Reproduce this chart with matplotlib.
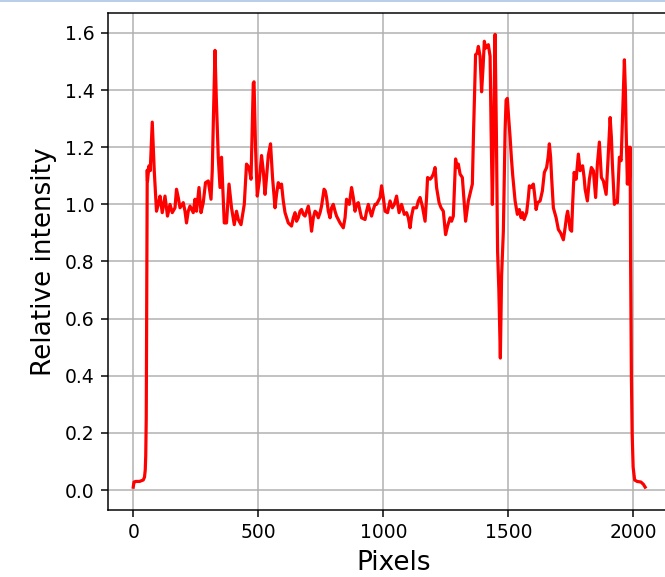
import matplotlib
matplotlib.use("Agg")
import matplotlib.pyplot as plt
from matplotlib.lines import Line2D

# Pixel index and relative intensity
pixels = [0, 3, 10, 25, 40, 45, 48, 50, 52, 54, 56,
          57, 63, 68, 76, 84, 93, 100, 107, 116, 127, 137, 147, 156, 167, 173, 180, 187,
          200, 207, 213, 220, 227, 240, 247, 253, 263, 271, 280, 289, 300, 311, 316, 321,
          327, 332, 340, 347, 353, 364, 373, 383, 393, 404, 413, 420, 431, 444, 453, 463,
          471, 480,
          483, 489, 496, 504, 513, 520, 527, 533, 540, 549, 557, 567, 573, 580, 587, 593,
          600, 607, 620, 633, 640, 647, 653, 660, 667, 673, 680, 687, 700, 707, 713, 720,
          727, 733, 740, 747, 753, 763, 768, 773, 780, 787, 793, 800, 807, 813, 827, 840,
          847, 853, 864, 873, 880, 887, 893, 900, 907, 913, 927, 933, 940, 947, 953, 960,
          967, 973, 980, 987, 993, 1000, 1007, 1017, 1027, 1036, 1044, 1053, 1063, 1073,
          1084, 1093, 1100, 1107, 1113, 1120, 1133, 1140, 1147, 1156, 1167, 1173, 1177,
          1187, 1193, 1200, 1207, 1213, 1223, 1231, 1240, 1249, 1257, 1267, 1273, 1280,
          1289, 1295, 1300, 1307, 1316, 1324, 1329, 1340, 1351, 1356, 1361, 1369, 1375,
          1380, 1387, 1393, 1399, 1404, 1409, 1415, 1420, 1427, 1431, 1436, 1441, 1447,
          1452, 1457, 1462, 1468, 1473, 1480, 1487, 1491, 1496, 1501, 1507, 1512, 1517,
          1523, 1527, 1536, 1544, 1551, 1557, 1563, 1573, 1580, 1584, 1591, 1600, 1605,
          1611, 1617, 1627, 1636, 1644, 1653, 1659, 1664, 1669, 1673, 1680, 1691, 1700,
          1709, 1720, 1727, 1733, 1737, 1743, 1747, 1753, 1757, 1763, 1771, 1780, 1787,
          1797, 1803, 1807, 1816, 1824, 1832, 1840, 1849, 1856, 1864, 1872, 1880, 1891,
          1899, 1907, 1912, 1916, 1924, 1931, 1936, 1944, 1951, 1957, 1964, 1968, 1971,
          1976, 1981, 1984, 1987, 1989, 1992, 1995, 1999, 2005, 2015, 2030, 2040, 2047]
intensity = [0.01, 0.028, 0.03, 0.03, 0.035, 0.045, 0.07, 0.12, 0.25, 0.7, 1.12,
             1.082, 1.135, 1.118, 1.288, 1.118, 0.976, 1.0, 1.029, 0.971, 1.029, 0.959, 1.0,
             0.971, 0.988, 1.053, 1.024, 0.988,
             1.006, 0.976, 0.935, 0.976, 0.994, 0.971, 1.018, 0.976, 1.059, 0.971, 1.006,
             1.076, 1.082, 1.018, 1.118, 1.318,
             1.539, 1.376, 1.165, 1.059, 1.165, 0.935, 0.935, 1.071, 0.988, 0.929, 0.976,
             0.947, 0.929, 1.0, 1.141, 1.129,
             1.088, 1.424,
             1.429, 1.2, 1.029, 1.082, 1.171, 1.118, 1.035, 1.094, 1.171, 1.212, 1.094,
             0.988, 1.035, 1.076, 1.059, 1.071,
             1.012, 0.971, 0.935, 0.924, 0.953, 0.971, 0.941, 0.953, 0.976, 0.982, 0.965,
             0.959, 0.994, 0.959, 0.906, 0.953,
             0.976, 0.971, 0.953, 0.971, 0.994, 1.053, 1.047, 1.024, 0.976, 0.953, 0.988,
             1.0, 0.976, 0.959, 0.935, 0.918,
             0.953, 1.018, 1.0, 1.059, 1.024, 0.976, 1.0, 1.006, 0.976, 0.953, 0.947,
             0.976, 1.0, 0.976, 0.959, 0.982,
             1.0, 1.0, 1.012, 1.024, 1.065, 1.024, 0.976, 0.971, 1.012, 0.988, 1.0, 1.029,
             0.971, 1.0,
             0.965, 0.971, 0.953, 0.918, 0.959, 0.988, 0.988, 1.012, 1.024, 0.994, 0.941,
             1.024, 1.094,
             1.088, 1.094, 1.106, 1.129, 1.059, 1.006, 0.988, 0.976, 0.894, 0.924, 0.953,
             0.941, 0.959,
             1.159, 1.129, 1.141, 1.106, 1.094, 1.0, 0.941, 1.012, 1.053, 1.071, 1.259,
             1.524, 1.529,
             1.553, 1.518, 1.394, 1.482, 1.571, 1.547, 1.553, 1.559, 1.518, 1.259, 1.0,
             1.259, 1.595,
             1.259, 0.835, 0.70, 0.462, 0.75, 0.906, 1.259, 1.365, 1.371, 1.306, 1.235,
             1.165, 1.106,
             1.047, 1.012, 0.965, 0.982, 0.953, 0.971, 0.947, 0.971, 1.024, 1.065, 1.059,
             1.071, 1.035,
             0.982, 1.006, 1.012, 1.047, 1.112, 1.129, 1.165, 1.212, 1.165, 1.094, 0.988,
             0.953, 0.912,
             0.9, 0.876, 0.918, 0.959, 0.976, 0.941, 0.912, 0.906, 1.0, 1.112, 1.088,
             1.176, 1.118,
             1.135, 1.094, 1.053, 1.012, 1.088, 1.129, 1.118, 1.024, 1.141, 1.218, 1.094,
             1.082, 1.035,
             1.165, 1.304, 1.235, 1.141, 1.0, 1.012, 1.006, 1.165, 1.153, 1.318, 1.506,
             1.4, 1.259,
             1.071, 1.2, 1.071, 1.2, 0.79, 0.4, 0.2, 0.08, 0.035, 0.03, 0.028, 0.02, 0.01]

DPI = 135
fig = plt.figure(figsize=(665 / DPI, 577 / DPI), dpi=DPI)
ax = fig.add_axes([0.162, 0.1161, 0.86, 0.8614])
ax.plot(pixels, intensity, color="red", linewidth=1.7)
ax.set_xlim(-102, 2149 + 0.0135 * 665 * 4)
ax.set_ylim(-0.07, 1.67)
ax.set_xticks([0, 500, 1000, 1500, 2000])
ax.set_yticks([0.0, 0.2, 0.4, 0.6, 0.8, 1.0, 1.2, 1.4, 1.6])
ax.grid(True)
ax.set_xlabel("Pixels", fontsize=14)
ax.set_ylabel("Relative intensity", fontsize=14)

fig.add_artist(Line2D([0, 1], [1 - 0.8 / 577, 1 - 0.8 / 577], transform=fig.transFigure,
                      color="#b7cbe8", linewidth=1.0))

fig.savefig("out.png", dpi=DPI)
